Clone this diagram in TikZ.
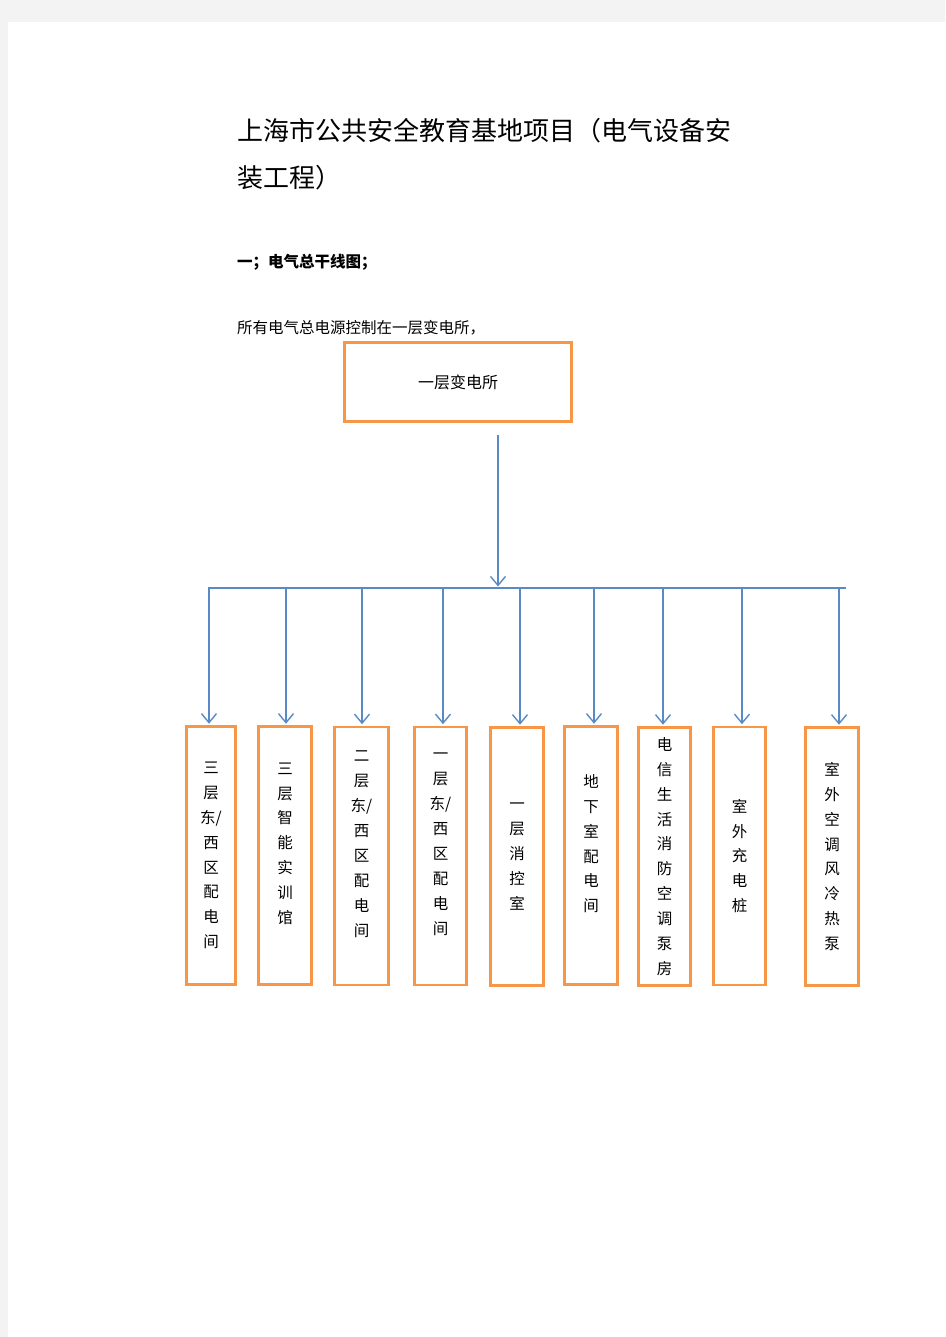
\documentclass[tikz,border=0pt]{standalone}
\usepackage{fontspec}
\newfontfamily\cjk{Noto Sans CJK SC}
\usetikzlibrary{arrows.meta}
\definecolor{orangeb}{HTML}{F79646}
\definecolor{blueb}{HTML}{5A8AC6}
\definecolor{pagegray}{HTML}{F3F3F3}
\begin{document}
\begin{tikzpicture}[x=1pt,y=-1pt,
  boxo/.style={draw=orangeb, line width=2.6pt, minimum height=258pt, inner sep=0pt, align=center,
    font=\cjk\fontsize{15.5}{24.9}\selectfont},
  wire/.style={draw=blueb, line width=1.4pt},
  arr/.style={wire, -{Straight Barb[length=9pt,width=15pt]}, shorten >=1.5pt},
  txt/.style={anchor=west, inner sep=0pt}
]
\useasboundingbox (0,0) rectangle (945,1337);
\fill[pagegray] (0,0) rectangle (945,1337);
\fill[white] (8,22) rectangle (945,1337);

% texts
\node[txt, font=\cjk\fontsize{26}{30}\selectfont] (t1) at (237,131) {上海市公共安全教育基地项目（电气设备安};
\node[txt, font=\cjk\fontsize{26}{30}\selectfont] (t2) at (237,178) {装工程）};
\node[txt, font=\cjk\bfseries\fontsize{15.5}{18}\selectfont] (h1) at (237,262) {一；电气总干线图；};
\node[txt, font=\cjk\fontsize{15.5}{18}\selectfont] (p1) at (237,328) {所有电气总电源控制在一层变电所，};

% main box
\node[draw=orangeb, line width=2.6pt, minimum width=227.5pt, minimum height=79.5pt, inner sep=0pt,
  font=\cjk\fontsize{16}{19}\selectfont] (main) at (458,382) {一层变电所};

% child boxes
\node[boxo, minimum width=49.5pt] (b1) at (211,855.5) {三\\层\\东/\\西\\区\\配\\电\\间};
\node[boxo, minimum width=53.5pt] (b2) at (285,855.5) {三\\层\\智\\能\\实\\训\\馆\\~};
\node[boxo, minimum width=54.5pt] (b3) at (361.5,856) {二\\层\\东/\\西\\区\\配\\电\\间\\~};
\node[boxo, minimum width=52.5pt] (b4) at (440.5,856) {一\\层\\东/\\西\\区\\配\\电\\间\\~};
\node[boxo, minimum width=53.5pt] (b5) at (517,856.5) {一\\层\\消\\控\\室};
\node[boxo, minimum width=53.5pt] (b6) at (591,855.5) {地\\下\\室\\配\\电\\间\\~};
\node[boxo, minimum width=52.5pt] (b7) at (664.5,856.5) {电\\信\\生\\活\\消\\防\\空\\调\\泵\\房};
\node[boxo, minimum width=52.5pt] (b8) at (739.5,856) {室\\外\\充\\电\\桩};
\node[boxo, minimum width=53.5pt] (b9) at (832,856.5) {室\\外\\空\\调\\风\\冷\\热\\泵};

% connectors
\coordinate (m) at (498,435);
\coordinate (hub) at (498,588);
\draw[arr] (m) -- (hub);
\coordinate (bl) at (208,588);
\coordinate (br) at (846,588);
\draw[wire] (bl) -- (br);
\foreach \x/\n in {209/b1,286/b2,362/b3,443/b4,520/b5,594/b6,663/b7,742/b8,839/b9}{
  \coordinate (a\n) at (\x,588);
  \draw[arr] (a\n) -- (a\n |- \n.north);
}
\end{tikzpicture}
\end{document}
